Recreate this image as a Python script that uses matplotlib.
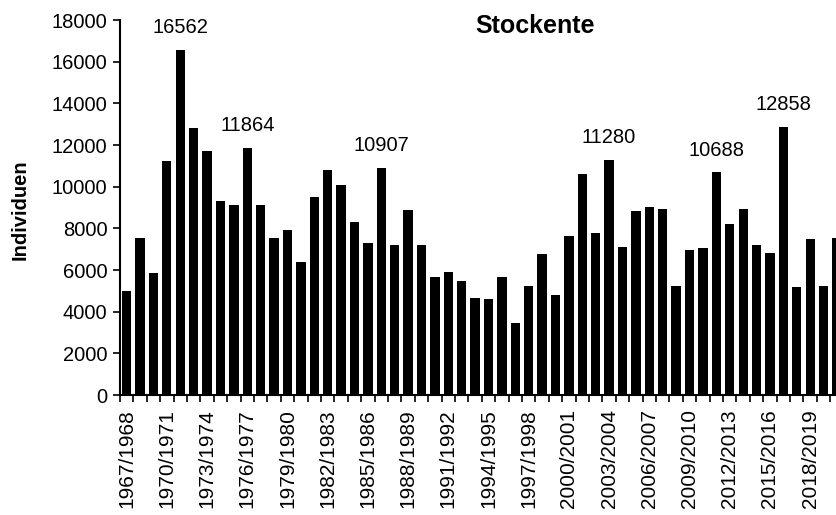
import numpy as np
import matplotlib
matplotlib.use("Agg")
import matplotlib.pyplot as plt

plt.rcParams['font.family'] = ['Liberation Sans', 'DejaVu Sans']

# winter seasons 1967/1968 .. 2020/2021
start_years = list(range(1967, 2021))
seasons = ["{}/{}".format(y, y + 1) for y in start_years]

# counts (labelled peaks are exact)
counts = [5000, 7550, 5860, 11250, 16562, 12800, 11730, 9330, 9100, 11864,
          9140, 7550, 7920, 6370, 9490, 10820, 10100, 8320, 7280, 10907,
          7220, 8900, 7200, 5650, 5890, 5490, 4640, 4630, 5680, 3460,
          5250, 6790, 4820, 7650, 10600, 7780, 11280, 7090, 8820, 9010,
          8950, 5220, 6980, 7070, 10688, 8230, 8930, 7200, 6800, 12858,
          5200, 7510, 5220, 7540]

# which bars get a value label
labelled = [16562, 11864, 10907, 11280, 10688, 12858]

fig = plt.figure(figsize=(8.36, 5.15), dpi=100)
ax = fig.add_axes([0.1435, 0.233, 0.8565, 0.728])

x = np.arange(len(seasons))
ax.bar(x, counts, width=0.69, color='black')

for i, v in enumerate(counts):
    if v in labelled:
        ax.annotate(str(v), (i, v), xytext=(0, 16), textcoords='offset points',
                    ha='center', va='center', fontsize=14.5)

ax.set_xlim(-0.5, 52.93)
ax.set_ylim(0, 18000)
ax.set_yticks(range(0, 18001, 2000))
ax.set_xticks(x[::3])
ax.set_xticklabels(seasons[::3], rotation=90, fontsize=15)
ax.set_xticks(np.arange(-0.5, 53, 1), minor=True)
ax.tick_params(axis='x', which='major', length=0, pad=10)
ax.tick_params(axis='x', which='minor', length=5, direction='out', width=1.2)
ax.tick_params(axis='y', length=5, direction='out', labelsize=14.5, width=1.2, pad=4)

for s in ['top', 'right']:
    ax.spines[s].set_visible(False)
ax.spines['left'].set_linewidth(1.5)
ax.spines['bottom'].set_linewidth(1.5)

ax.set_ylabel("Individuen", fontsize=14.5, fontweight='bold')
ax.yaxis.set_label_coords(-0.1257, 0.4956)
ax.text(0.5796, 0.983, "Stockente", transform=ax.transAxes, ha='center', va='center',
        fontsize=18, fontweight='bold')

plt.savefig("out.png", dpi=100)
